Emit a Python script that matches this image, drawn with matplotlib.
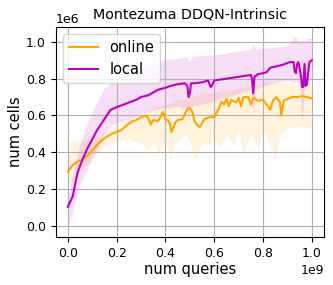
import numpy as np
import matplotlib
matplotlib.use("Agg")
import matplotlib.pyplot as plt

# online (orange) mean curve, x in 1e9 queries, y in 1e6 cells
online_x = [0.00, 0.02, 0.04, 0.06, 0.08, 0.10, 0.12, 0.14, 0.16, 0.18, 0.20, 0.22, 0.24, 0.26,
            0.28, 0.30, 0.32, 0.33, 0.34, 0.35, 0.37, 0.38, 0.39, 0.40, 0.41, 0.42, 0.425, 0.44,
            0.45, 0.47, 0.49, 0.50, 0.51, 0.52, 0.53, 0.54, 0.56, 0.58, 0.60, 0.62, 0.63, 0.64,
            0.65, 0.66, 0.67, 0.69, 0.70, 0.71, 0.72, 0.74, 0.75, 0.76, 0.78, 0.80, 0.82, 0.83,
            0.84, 0.855, 0.87, 0.875, 0.885, 0.90, 0.92, 0.94, 0.96, 0.98, 1.00]
online_y = [0.293, 0.33, 0.35, 0.36, 0.38, 0.41, 0.44, 0.465, 0.485, 0.50, 0.51, 0.52, 0.545, 0.565,
            0.575, 0.59, 0.60, 0.585, 0.55, 0.575, 0.57, 0.59, 0.62, 0.58, 0.575, 0.55, 0.51, 0.56,
            0.575, 0.58, 0.635, 0.64, 0.62, 0.565, 0.55, 0.535, 0.58, 0.59, 0.59, 0.64, 0.675, 0.66,
            0.69, 0.65, 0.685, 0.67, 0.695, 0.65, 0.70, 0.70, 0.66, 0.695, 0.68, 0.685, 0.65, 0.63,
            0.68, 0.70, 0.67, 0.60, 0.68, 0.69, 0.70, 0.70, 0.705, 0.70, 0.693]

online_band_x = [0.00, 0.05, 0.10, 0.15, 0.20, 0.25, 0.30, 0.33, 0.35, 0.37, 0.40, 0.42, 0.44, 0.48,
                 0.50, 0.52, 0.55, 0.58, 0.60, 0.62, 0.65, 0.68, 0.70, 0.72, 0.75, 0.78, 0.80, 0.82,
                 0.85, 0.87, 0.90, 0.95, 1.00]
online_lo = [0.20, 0.30, 0.36, 0.43, 0.46, 0.47, 0.45, 0.41, 0.46, 0.38, 0.47, 0.36, 0.45, 0.50,
             0.46, 0.35, 0.45, 0.44, 0.48, 0.42, 0.50, 0.44, 0.52, 0.40, 0.50, 0.42, 0.52, 0.46,
             0.36, 0.50, 0.53, 0.54, 0.53]
online_hi = [0.46, 0.46, 0.47, 0.51, 0.55, 0.58, 0.61, 0.63, 0.64, 0.65, 0.66, 0.67, 0.68, 0.69,
             0.70, 0.71, 0.72, 0.72, 0.73, 0.73, 0.74, 0.74, 0.75, 0.75, 0.76, 0.77, 0.78, 0.78,
             0.78, 0.78, 0.78, 0.78, 0.78]

# local (magenta) mean curve
local_x = [0.00, 0.02, 0.04, 0.06, 0.08, 0.10, 0.12, 0.14, 0.16, 0.175, 0.20, 0.22, 0.25, 0.28,
           0.30, 0.33, 0.35, 0.37, 0.40, 0.42, 0.45, 0.48, 0.49, 0.495, 0.50, 0.505, 0.52, 0.55,
           0.575, 0.585, 0.59, 0.60, 0.65, 0.70, 0.75, 0.755, 0.76, 0.765, 0.78, 0.80, 0.815,
           0.83, 0.85, 0.88, 0.91, 0.925, 0.93, 0.935, 0.94, 0.945, 0.955, 0.96, 0.965, 0.97,
           0.975, 0.98, 0.99, 1.00]
local_y = [0.103, 0.16, 0.29, 0.36, 0.42, 0.47, 0.52, 0.56, 0.60, 0.63, 0.645, 0.655, 0.67, 0.685,
           0.70, 0.71, 0.725, 0.74, 0.75, 0.76, 0.77, 0.775, 0.76, 0.70, 0.72, 0.775, 0.775, 0.78,
           0.79, 0.755, 0.76, 0.79, 0.80, 0.81, 0.82, 0.80, 0.72, 0.81, 0.825, 0.83, 0.835,
           0.86, 0.865, 0.875, 0.89, 0.89, 0.84, 0.83, 0.88, 0.89, 0.82, 0.755, 0.755, 0.88,
           0.76, 0.77, 0.89, 0.90]

local_band_x = [0.00, 0.05, 0.10, 0.15, 0.18, 0.25, 0.30, 0.35, 0.40, 0.45, 0.49, 0.495, 0.50,
                0.51, 0.55, 0.60, 0.65, 0.70, 0.75, 0.76, 0.77, 0.80, 0.85, 0.90, 0.93, 0.95,
                0.96, 0.97, 0.98, 1.00]
local_lo = [-0.01, 0.22, 0.37, 0.50, 0.55, 0.58, 0.61, 0.63, 0.64, 0.65, 0.64, 0.55, 0.64,
            0.65, 0.66, 0.68, 0.70, 0.72, 0.74, 0.60, 0.74, 0.76, 0.78, 0.79, 0.78, 0.78,
            0.55, 0.78, 0.79, 0.80]
local_hi = [0.15, 0.45, 0.62, 0.75, 0.78, 0.82, 0.855, 0.88, 0.905, 0.91, 0.92, 0.89, 0.90,
            0.92, 0.925, 0.93, 0.94, 0.95, 0.96, 0.99, 0.96, 0.965, 0.97, 0.98, 1.03, 1.00,
            1.01, 1.00, 1.02, 1.02]

fig = plt.figure(figsize=(3.33, 2.85), dpi=100)
ax = fig.add_axes([0.167, 0.169, 0.806, 0.737])

ax.fill_between(np.array(online_band_x) * 1e9, np.array(online_lo) * 1e6, np.array(online_hi) * 1e6,
                color='orange', alpha=0.13, linewidth=0)
ax.fill_between(np.array(local_band_x) * 1e9, np.array(local_lo) * 1e6, np.array(local_hi) * 1e6,
                color='m', alpha=0.13, linewidth=0)
ax.plot(np.array(online_x) * 1e9, np.array(online_y) * 1e6, color='orange', linewidth=1.5, label='online')
ax.plot(np.array(local_x) * 1e9, np.array(local_y) * 1e6, color='m', linewidth=1.5, label='local')

ax.set_xlim(-0.05e9, 1.05e9)
ax.set_ylim(-0.06e6, 1.082e6)
ax.grid(True)
ax.tick_params(labelsize=9)
ax.xaxis.get_offset_text().set_fontsize(9)
ax.yaxis.get_offset_text().set_fontsize(9)
ax.set_title("Montezuma DDQN-Intrinsic", fontsize=10.3)
ax.set_xlabel("num queries", fontsize=10.5, labelpad=2)
ax.set_ylabel("num cells", fontsize=10.5, labelpad=2)
ax.legend(loc='upper left', fontsize=10.5)

fig.savefig("out.png", dpi=100)
